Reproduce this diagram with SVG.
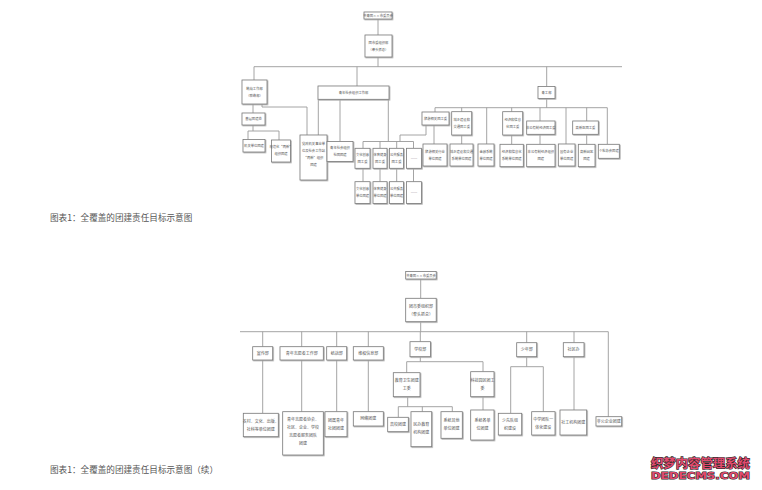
<svg xmlns="http://www.w3.org/2000/svg" width="762" height="490" viewBox="0 0 762 490">
<style>
.bx{fill:#fff;stroke:#7a7a7a;stroke-width:0.8;filter:url(#sh)}
.ln{stroke:#9a9a9a;stroke-width:0.9;fill:none}
.t{font-family:"Noto Sans CJK SC","Noto Sans",sans-serif;font-size:3.3px;fill:#555;text-anchor:middle}
.t2{font-family:"Noto Sans CJK SC","Noto Sans",sans-serif;font-size:4px;fill:#555;text-anchor:middle}
.cap{font-family:"Noto Sans CJK SC","Noto Sans",sans-serif;font-size:8.6px;fill:#555}
.wm1{font-family:"Noto Sans CJK SC",sans-serif;font-size:12px;font-weight:bold;fill:#e24a6e;stroke:#2a2a2a;stroke-width:1.2px;paint-order:stroke}
.wm2{font-family:"DejaVu Sans",sans-serif;font-size:8.5px;font-weight:bold;fill:#e24a6e;stroke:#2a2a2a;stroke-width:1px;paint-order:stroke}
</style>
<defs>
<filter id="sh" x="-20%" y="-20%" width="150%" height="150%">
<feDropShadow dx="0.8" dy="0.8" stdDeviation="0.4" flood-color="#aaa"/>
</filter>
</defs>
<rect width="762" height="490" fill="#fff"/>

<!-- ===== TOP DIAGRAM CONNECTORS ===== -->
<g id="connectors-top" class="ln">
<path d="M378 19V35M378 57V66.7M254 66.7H622"/>
<path d="M254 66.7V80M357 66.7V86M546.7 66.7V86.5"/>
<path d="M253 104V113M253 125V131M248 131H279M248 131V139.5M279 131V140"/>
<path d="M262 104V107H307V135M318.3 99.3V135M340 99.3V141.5"/>
<path d="M388.3 99.3V141.5M363 141.5H413.5M363 141.5V148.3M380 141.5V148.3M396.7 141.5V148.3M413.5 141.5V148.3"/>
<path d="M363 168.3V181.7M380 168.3V181.7M396.7 168.3V181.7M413.5 168.3V181.7"/>
<path d="M400 141.5V135H426V125"/>
<path d="M546.7 98.5V107.7M435 107.7H607.3"/>
<path d="M435 107.7V112M461.7 107.7V111.7M486.7 107.7V144M511.7 107.7V111.7M540 107.7V121M566 107.7V144M586.7 107.7V121M607.3 107.7V144.3"/>
<path d="M434 125V144M461.7 135V144M511.7 135V144.3M540 134.3V144.3M586.7 134.3V144.3"/>
</g>

<!-- ===== TOP DIAGRAM NODES ===== -->
<g id="t-root"><rect class="bx" x="364" y="12" width="28" height="7"/><text class="t" x="378" y="16.8" font-size="3.1">共青团××市委员会</text></g>
<g id="t-org"><rect class="bx" x="365" y="35" width="27" height="22"/><text class="t" x="378.5" y="44">团市委组织部</text><text class="t" x="378.5" y="51">（牵头抓总）</text></g>
<g id="t-lianluo"><rect class="bx" x="242" y="80" width="25" height="24"/><text class="t" x="254.5" y="89.5">统战工作部</text><text class="t" x="254.5" y="97">（联络部）</text></g>
<g id="t-qsz"><rect class="bx" x="318" y="86" width="71" height="13.3"/><text class="t" x="353.5" y="93.8">青年社会组织工作部</text></g>
<g id="t-qg"><rect class="bx" x="538" y="86.5" width="17" height="12"/><text class="t" x="546.5" y="93.6">青工部</text></g>

<g id="t-jc"><rect class="bx" x="242" y="113" width="23" height="12"/><text class="t" x="253.5" y="120.2">基层团建处</text></g>
<g id="t-a"><rect class="bx" x="243" y="139.5" width="22" height="12.5"/><text class="t" x="254" y="146.8">机关单位团建</text></g>
<g id="t-b"><rect class="bx" x="271.5" y="140" width="19" height="22"/><text class="t" x="281" y="148">规范化“两新”</text><text class="t" x="281" y="155">组织团建</text></g>
<g id="t-c"><rect class="bx" x="300" y="135" width="27" height="45"/><text class="t" x="313.5" y="145">党政机关事业单</text><text class="t" x="313.5" y="152">位及社会工作站</text><text class="t" x="313.5" y="159">“两新”组织</text><text class="t" x="313.5" y="166">团建</text></g>
<g id="t-d"><rect class="bx" x="327" y="141.5" width="26" height="20"/><text class="t" x="340" y="149">青年社会组织</text><text class="t" x="340" y="156">社团团建</text></g>

<g id="t-g1"><rect class="bx" x="355" y="148.3" width="15" height="20"/><text class="t" x="362.5" y="156">文化创意</text><text class="t" x="362.5" y="163">团工委</text></g>
<g id="t-g2"><rect class="bx" x="373" y="148.3" width="14" height="20"/><text class="t" x="380" y="156">体育健身</text><text class="t" x="380" y="163">团工委</text></g>
<g id="t-g3"><rect class="bx" x="389.5" y="148.3" width="14" height="20"/><text class="t" x="396.5" y="156">公共服务</text><text class="t" x="396.5" y="163">团工委</text></g>
<g id="t-g4"><rect class="bx" x="406.5" y="148.3" width="15" height="20"/><text class="t" x="414" y="159.5">……</text></g>
<g id="t-h1"><rect class="bx" x="355" y="181.7" width="15" height="21.7"/><text class="t" x="362.5" y="190">文化创意</text><text class="t" x="362.5" y="197">单位团建</text></g>
<g id="t-h2"><rect class="bx" x="373" y="181.7" width="14" height="21.7"/><text class="t" x="380" y="190">体育健身</text><text class="t" x="380" y="197">单位团建</text></g>
<g id="t-h3"><rect class="bx" x="389.5" y="181.7" width="14" height="21.7"/><text class="t" x="396.5" y="190">公共服务</text><text class="t" x="396.5" y="197">单位团建</text></g>
<g id="t-h4"><rect class="bx" x="406.5" y="181.7" width="15" height="21.7"/><text class="t" x="414" y="193.5">……</text></g>

<g id="t-ly"><rect class="bx" x="422" y="112" width="27" height="13"/><text class="t" x="435.5" y="119.6">旅游相关团工委</text></g>
<g id="t-ly2"><rect class="bx" x="423" y="144" width="24" height="22"/><text class="t" x="435" y="152.5">旅游相关行业</text><text class="t" x="435" y="159.5">单位团建</text></g>
<g id="t-cx"><rect class="bx" x="451.7" y="111.7" width="20" height="23.3"/><text class="t" x="461.7" y="120.5">城乡建设和</text><text class="t" x="461.7" y="127.5">交通团工委</text></g>
<g id="t-cx2"><rect class="bx" x="450" y="144" width="23" height="22"/><text class="t" x="461.5" y="152.5">城乡建设和交通</text><text class="t" x="461.5" y="159.5">系统单位团建</text></g>
<g id="t-jr"><rect class="bx" x="478" y="144" width="16" height="22"/><text class="t" x="486" y="152.5">金融系统</text><text class="t" x="486" y="159.5">单位团建</text></g>
<g id="t-jx"><rect class="bx" x="502.7" y="111.7" width="20" height="23.3"/><text class="t" x="512.7" y="120.5">经济和信息</text><text class="t" x="512.7" y="127.5">化团工委</text></g>
<g id="t-jx2"><rect class="bx" x="500" y="144.3" width="23.3" height="22.4"/><text class="t" x="511.7" y="152.8">经济和信息化</text><text class="t" x="511.7" y="159.8">系统单位团建</text></g>
<g id="t-fg"><rect class="bx" x="526.7" y="121" width="28.3" height="13.3"/><text class="t" x="540.8" y="128.8">非公有制经济团工委</text></g>
<g id="t-fg2"><rect class="bx" x="526.7" y="144.3" width="28.3" height="22.4"/><text class="t" x="540.8" y="152.8">非公有制经济组织</text><text class="t" x="540.8" y="159.8">团建</text></g>
<g id="t-gq"><rect class="bx" x="558.3" y="144" width="16.7" height="22"/><text class="t" x="566.6" y="152.5">国有企业</text><text class="t" x="566.6" y="159.5">单位团建</text></g>
<g id="t-gx"><rect class="bx" x="572.7" y="121" width="25.6" height="13.3"/><text class="t" x="585.5" y="128.8">高新区团工委</text></g>
<g id="t-gx2"><rect class="bx" x="578.3" y="144.3" width="16.7" height="22.4"/><text class="t" x="586.6" y="152.8">高新园区</text><text class="t" x="586.6" y="159.8">团建</text></g>
<g id="t-gs"><rect class="bx" x="598.3" y="144.3" width="21" height="14"/><text class="t" x="608.8" y="152.3">个私协会团建</text></g>

<text class="cap" x="50" y="220.5">图表1：全覆盖的团建责任目标示意图</text>

<!-- ===== BOTTOM DIAGRAM CONNECTORS ===== -->
<g id="connectors-bottom" class="ln">
<path d="M420.7 279V298.3M420.7 321.7V331.7M240 331.7H608.3"/>
<path d="M262.7 331.7V346.7M301.7 331.7V346.7M336.7 331.7V346.7M368.3 331.7V346.7M420.3 331.7V341.7M526.7 331.7V342.7M574 331.7V342.7M608.3 331.7V416.7"/>
<path d="M262.7 360V413.3M301.7 360V411.7M336.7 360V411.7M368.3 360V411.7"/>
<path d="M420.3 356.7V361.7M406.7 361.7H483M406.7 361.7V372.7M483 361.7V371.7"/>
<path d="M407.7 396.7V406.7M398.3 406.7H452.3M398.3 406.7V417.3M422.3 406.7V411.7M452.3 406.7V411.7"/>
<path d="M483 396.7V410"/>
<path d="M526.7 356.7V366.7M510.7 366.7H543.3M510.7 366.7V413.3M543.3 366.7V411.7"/>
<path d="M574 356.7V410"/>
</g>

<!-- ===== BOTTOM DIAGRAM NODES ===== -->
<g id="b-root"><rect class="bx" x="405.7" y="271.5" width="30.5" height="7.5"/><text class="t" x="421" y="276.6" font-size="3.3">共青团××市委员会</text></g>
<g id="b-org"><rect class="bx" x="405.7" y="298.3" width="30.5" height="23.4"/><text class="t2" x="421" y="308">团市委组织部</text><text class="t2" x="421" y="315.5">（牵头抓总）</text></g>
<g id="b-xc"><rect class="bx" x="252.7" y="346.7" width="20" height="13.3"/><text class="t2" x="262.7" y="354.8">宣传部</text></g>
<g id="b-zy"><rect class="bx" x="280" y="346.7" width="43.3" height="13.3"/><text class="t2" x="301.7" y="354.8">青年志愿者工作部</text></g>
<g id="b-tz"><rect class="bx" x="326.7" y="346.7" width="20" height="13.3"/><text class="t2" x="336.7" y="354.8">统战部</text></g>
<g id="b-wq"><rect class="bx" x="353.3" y="346.7" width="30" height="13.3"/><text class="t2" x="368.3" y="354.8">维权信息部</text></g>
<g id="b-xx"><rect class="bx" x="410" y="341.7" width="20.5" height="15"/><text class="t2" x="420.3" y="350.6">学校部</text></g>
<g id="b-sn"><rect class="bx" x="516.7" y="342.7" width="20" height="14"/><text class="t2" x="526.7" y="351.2">少年部</text></g>
<g id="b-sq"><rect class="bx" x="563.3" y="342.7" width="20.7" height="14"/><text class="t2" x="573.6" y="351.2">社区办</text></g>

<g id="b-l1"><rect class="bx" x="243.3" y="413.3" width="35" height="23.4"/><text class="t2" x="260.8" y="422.5">农村、文化、出版、</text><text class="t2" x="260.8" y="430.5">社科等单位团建</text></g>
<g id="b-l2"><rect class="bx" x="282.7" y="411.7" width="40.6" height="43.3"/><text class="t2" x="303" y="421">青年志愿者协会、</text><text class="t2" x="303" y="429">社区、企业、学校</text><text class="t2" x="303" y="437">志愿者服务团队</text><text class="t2" x="303" y="445">团建</text></g>
<g id="b-l3"><rect class="bx" x="325" y="411.7" width="22" height="25"/><text class="t2" x="336" y="421.5">团属青年</text><text class="t2" x="336" y="429.5">社团团建</text></g>
<g id="b-l4"><rect class="bx" x="353.3" y="411.7" width="30" height="14.3"/><text class="t2" x="368.3" y="420.3">网络团建</text></g>

<g id="b-jw"><rect class="bx" x="393.3" y="372.7" width="26.7" height="24"/><text class="t2" x="406.7" y="382">教育卫生团建</text><text class="t2" x="406.7" y="390">工委</text></g>
<g id="b-kj"><rect class="bx" x="470.7" y="371.7" width="23.3" height="25"/><text class="t2" x="482.4" y="381.5">科技园区团工</text><text class="t2" x="482.4" y="389.5">委</text></g>
<g id="b-gx"><rect class="bx" x="387.7" y="417.3" width="20.6" height="14.4"/><text class="t2" x="398" y="426">高校团建</text></g>
<g id="b-mb"><rect class="bx" x="411" y="411.7" width="20.7" height="35"/><text class="t2" x="421.3" y="426">民办教育</text><text class="t2" x="421.3" y="434">机构团建</text></g>
<g id="b-qt"><rect class="bx" x="441" y="411.7" width="21.3" height="26.6"/><text class="t2" x="451.6" y="422">系统其他</text><text class="t2" x="451.6" y="430">单位团建</text></g>
<g id="b-kj2"><rect class="bx" x="470.7" y="410" width="23.3" height="30"/><text class="t2" x="482.4" y="422">系统各单</text><text class="t2" x="482.4" y="430">位团建</text></g>
<g id="b-sx"><rect class="bx" x="498.3" y="413.3" width="23.4" height="21.7"/><text class="t2" x="510" y="422">少先队组</text><text class="t2" x="510" y="430">织建设</text></g>
<g id="b-zx"><rect class="bx" x="531.7" y="411.7" width="23.3" height="23.3"/><text class="t2" x="543.3" y="421">中学团队一</text><text class="t2" x="543.3" y="429">体化建设</text></g>
<g id="b-sg"><rect class="bx" x="560" y="410" width="26.7" height="25"/><text class="t2" x="573.3" y="424">社工机构团建</text></g>
<g id="b-fg"><rect class="bx" x="596" y="416.7" width="25.7" height="9.3"/><text class="t2" x="608.8" y="422.8">非公企业团建</text></g>

<text class="cap" x="50" y="472.5">图表1：全覆盖的团建责任目标示意图（续）</text>

<text class="wm1" x="651" y="467.5" textLength="99" lengthAdjust="spacingAndGlyphs">织梦内容管理系统</text>
<text class="wm2" x="651" y="479" textLength="99" lengthAdjust="spacingAndGlyphs">DEDECMS.COM</text>
</svg>
